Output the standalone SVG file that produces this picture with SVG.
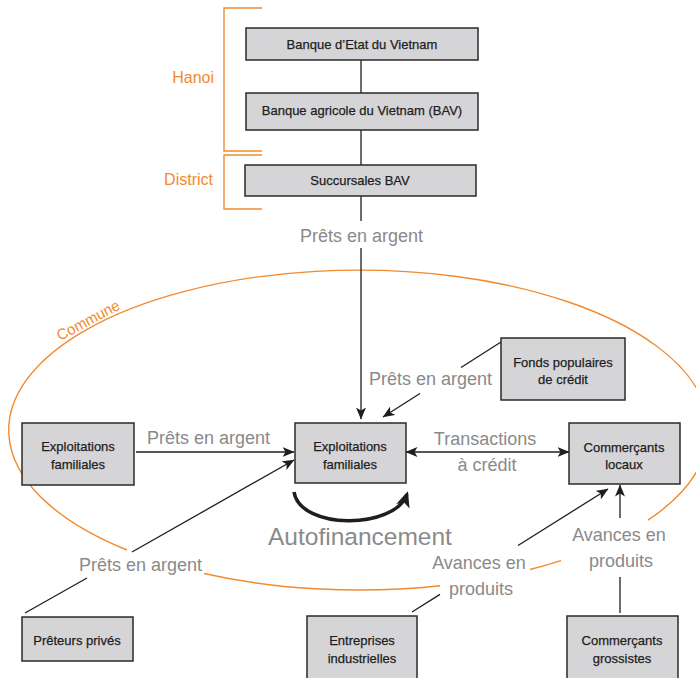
<svg xmlns="http://www.w3.org/2000/svg" width="696" height="678" viewBox="0 0 696 678">
<style>
.box{fill:#d5d5d7;stroke:#2a2a2a;stroke-width:1.5}
.bt{font-family:"Liberation Sans",Arial,sans-serif;font-size:13px;fill:#1e1e1e;stroke:#1e1e1e;stroke-width:0.25;text-anchor:middle}
.lab{font-family:"Liberation Sans",Arial,sans-serif;font-size:18px;fill:#8a8a8a}
.big{font-size:24.5px}
.ln{stroke:#1e1e1e;stroke-width:1.3;fill:none}
.or{stroke:#f28a2e;stroke-width:1.4;fill:none}
.ot{font-family:"Liberation Sans",Arial,sans-serif;font-size:16px;fill:#f28a2e}
.ct{font-size:15px}
</style>
<defs>
<marker id="ah" markerUnits="userSpaceOnUse" viewBox="0 0 12 10" markerWidth="12" markerHeight="10" refX="11.5" refY="5" orient="auto">
<path d="M0,0 L12,5 L0,10 L3,5 z" fill="#1e1e1e"/>
</marker>
<marker id="ahs" markerUnits="userSpaceOnUse" viewBox="0 0 12 10" markerWidth="12" markerHeight="10" refX="0.5" refY="5" orient="auto">
<path d="M12,0 L0,5 L12,10 L9,5 z" fill="#1e1e1e"/>
</marker>
<marker id="ahb" markerUnits="userSpaceOnUse" viewBox="0 0 16 14" markerWidth="16" markerHeight="14" refX="13" refY="7" orient="auto">
<path d="M0,0 L16,7 L0,14 L4,7 z" fill="#1e1e1e"/>
</marker>
</defs>

<g id="levels">
<path class="or" d="M262,8 H224 V151 H262"/>
<path class="or" d="M262,155 H224 V209 H262"/>
<text class="ot" x="214" y="83" text-anchor="end">Hanoi</text>
<text class="ot" x="213" y="185" text-anchor="end">District</text>
</g>

<g id="commune">
<path class="or" d="M648,520.2 A350,160 0 1 0 127,550"/>
<path class="or" d="M204,573.5 A350,160 0 0 0 440,585.7"/>
<path class="or" d="M530,569.5 A350,160 0 0 0 561,560.7"/>
<text class="ot ct" transform="translate(60,341) rotate(-28)">Commune</text>
</g>

<g id="connectors">
<line class="ln" x1="361" y1="60" x2="361" y2="93"/>
<line class="ln" x1="361" y1="130" x2="361" y2="165"/>
<line class="ln" x1="361" y1="196" x2="361" y2="221"/>
<line class="ln" x1="361" y1="248" x2="361" y2="419" marker-end="url(#ah)"/>
<line class="ln" x1="501" y1="342" x2="461" y2="367.5"/>
<line class="ln" x1="420" y1="393.5" x2="383" y2="417" marker-end="url(#ah)"/>
<line class="ln" x1="136" y1="452" x2="294" y2="452" marker-end="url(#ah)"/>
<line class="ln" x1="25" y1="613" x2="87" y2="578"/>
<line class="ln" x1="132" y1="552" x2="294" y2="460" marker-end="url(#ah)"/>
<line class="ln" x1="406" y1="452" x2="569" y2="452" marker-start="url(#ahs)" marker-end="url(#ah)"/>
<path d="M294,492 C300,530 395,530 407,494" stroke="#1e1e1e" stroke-width="3.5" fill="none" marker-end="url(#ahb)"/>
<line class="ln" x1="412" y1="612" x2="440" y2="594.4"/>
<line class="ln" x1="518" y1="545.5" x2="608" y2="489" marker-end="url(#ah)"/>
<line class="ln" x1="620" y1="613" x2="620" y2="577"/>
<line class="ln" x1="620" y1="518" x2="620" y2="485" marker-end="url(#ah)"/>
</g>

<g id="labels">
<text class="lab" x="300" y="242">Prêts en argent</text>
<text class="lab" x="369" y="385">Prêts en argent</text>
<text class="lab" x="147" y="444">Prêts en argent</text>
<text class="lab" x="79" y="571">Prêts en argent</text>
<text class="lab" x="485" y="445" text-anchor="middle">Transactions</text>
<text class="lab" x="487" y="471" text-anchor="middle">à crédit</text>
<text class="lab big" x="268" y="545">Autofinancement</text>
<text class="lab" x="479" y="569" text-anchor="middle">Avances en</text>
<text class="lab" x="481" y="595" text-anchor="middle">produits</text>
<text class="lab" x="619" y="541" text-anchor="middle">Avances en</text>
<text class="lab" x="621" y="567" text-anchor="middle">produits</text>
</g>

<g id="n-banque-etat"><rect class="box" x="246" y="28" width="232" height="32"/><text class="bt" x="362" y="49">Banque d’Etat du Vietnam</text></g>
<g id="n-bav"><rect class="box" x="246" y="93" width="232" height="37"/><text class="bt" x="362" y="115">Banque agricole du Vietnam (BAV)</text></g>
<g id="n-succursales"><rect class="box" x="245" y="165" width="231" height="31"/><text class="bt" x="360" y="185">Succursales BAV</text></g>
<g id="n-expl-left"><rect class="box" x="22" y="423" width="112" height="62"/><text class="bt" x="78" y="451">Exploitations</text><text class="bt" x="78" y="469">familiales</text></g>
<g id="n-expl-center"><rect class="box" x="295" y="423" width="111" height="60"/><text class="bt" x="350" y="451">Exploitations</text><text class="bt" x="350" y="469">familiales</text></g>
<g id="n-comm-locaux"><rect class="box" x="569" y="423" width="111" height="61"/><text class="bt" x="624" y="452">Commerçants</text><text class="bt" x="624" y="469">locaux</text></g>
<g id="n-fonds"><rect class="box" x="501" y="338" width="124" height="62"/><text class="bt" x="563" y="367">Fonds populaires</text><text class="bt" x="563" y="384">de crédit</text></g>
<g id="n-preteurs"><rect class="box" x="22" y="617" width="111" height="44"/><text class="bt" x="77" y="645">Prêteurs privés</text></g>
<g id="n-entreprises"><rect class="box" x="307" y="616" width="110" height="70"/><text class="bt" x="362" y="645">Entreprises</text><text class="bt" x="362" y="663">industrielles</text></g>
<g id="n-grossistes"><rect class="box" x="567" y="616" width="111" height="70"/><text class="bt" x="622" y="645">Commerçants</text><text class="bt" x="622" y="663">grossistes</text></g>
</svg>
